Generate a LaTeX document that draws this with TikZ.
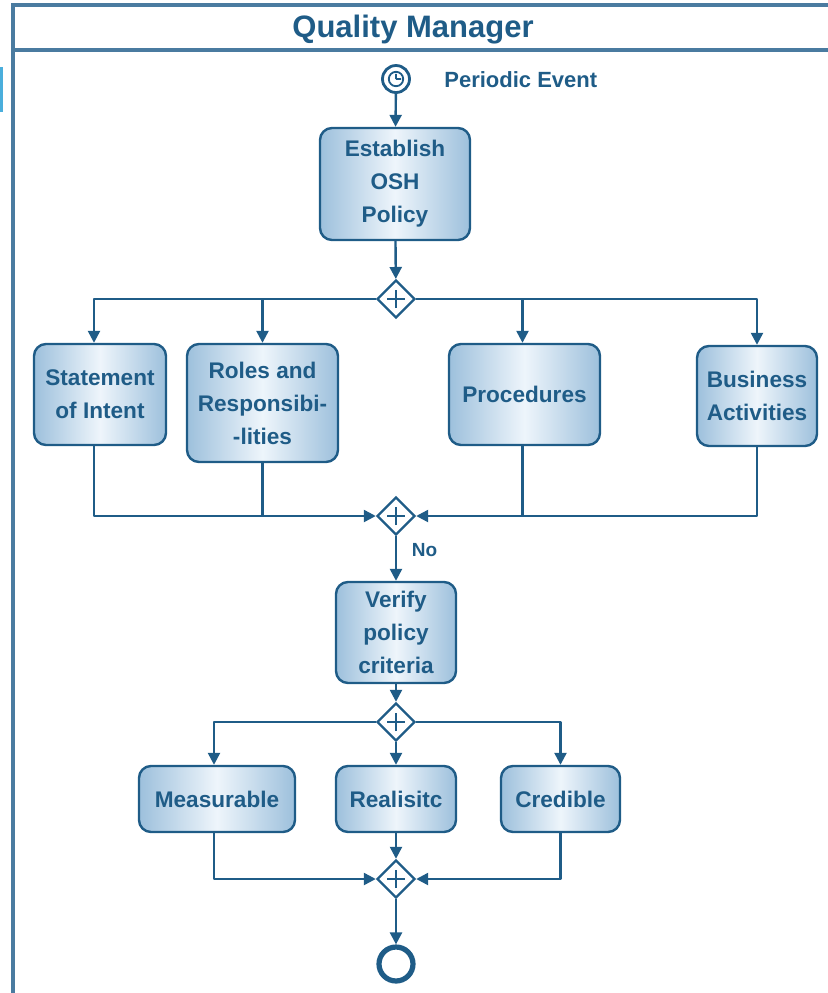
\documentclass[tikz,border=0pt]{standalone}
\usepackage{fontspec}
\setmainfont{Liberation Sans}
\usetikzlibrary{shapes.geometric,arrows.meta}
\definecolor{qmblue}{HTML}{1F5C87}
\definecolor{qmframe}{HTML}{4A7BA0}
\definecolor{qmedge}{HTML}{9DC0DC}
\definecolor{qmlight}{HTML}{EEF5FB}
\definecolor{qmbar}{HTML}{4AAEDC}
\tikzset{
  task/.style={draw=qmblue, line width=1.2pt, rounded corners=6pt, left color=qmedge, right color=qmedge, middle color=qmlight, text=qmblue, align=center, inner sep=0pt, font=\bfseries\fontsize{11.3}{16.5}\selectfont},
  gateway/.style={diamond, draw=qmblue, fill=white, line width=1.2pt, minimum width=19pt, minimum height=19pt, inner sep=0pt,
    path picture={\draw[qmblue, line width=1.1pt] ([xshift=-4.5pt]path picture bounding box.center) -- ++(9pt,0pt)
      ([yshift=-4.5pt]path picture bounding box.center) -- ++(0pt,9pt);}},
  flow/.style={draw=qmblue, line width=1.2pt, line join=round},
}
\begin{document}
\begin{tikzpicture}[x=0.5pt, y=-0.5pt, >={Triangle[length=6pt,width=6pt]}, font=\bfseries]
  \useasboundingbox (0,0) rectangle (828,993);
  % pool frame
  \fill[qmbar] (0,67) rectangle (3,112);
  \draw[qmframe, line width=1.8pt] (13,1000) -- (13,5) -- (840,5);
  \draw[qmframe, line width=1.8pt] (13,50) -- (840,50);
  \node[text=qmblue, font=\bfseries\fontsize{15.5}{18}\selectfont] (title) at (413,30) {Quality Manager};
  % events
  \node[circle, draw=qmblue, line width=1.4pt, minimum size=13.5pt, inner sep=0pt,
    path picture={\draw[qmblue, line width=0.9pt] (path picture bounding box.center) circle (3.6pt)
      (path picture bounding box.center) -- ++(0pt,2.6pt) (path picture bounding box.center) -- ++(2.6pt,0pt);}] (start) at (396,79) {};
  \node[anchor=west, inner sep=0pt, text=qmblue, font=\bfseries\fontsize{11}{13}\selectfont] (evlabel) at (444,80) {Periodic Event};
  \node[circle, draw=qmblue, line width=2.6pt, minimum size=17pt, inner sep=0pt] (end) at (396,964) {};
  % tasks
  \node[task, minimum width=75pt, minimum height=56pt] (est) at (395,184) {Establish\\OSH\\Policy};
  \node[task, minimum width=66pt, minimum height=50.5pt] (soi) at (100,394.5) {Statement\\of Intent};
  \node[task, minimum width=75.5pt, minimum height=59pt] (rar) at (262.5,403) {Roles and\\Responsibi-\\-lities};
  \node[task, minimum width=75.5pt, minimum height=50.5pt] (proc) at (524.5,394.5) {Procedures};
  \node[task, minimum width=60pt, minimum height=50pt] (bus) at (757,396) {Business\\Activities};
  \node[task, minimum width=60pt, minimum height=50.5pt] (ver) at (396,632.5) {Verify\\policy\\criteria};
  \node[task, minimum width=78pt, minimum height=33pt] (meas) at (217,799) {Measurable};
  \node[task, minimum width=60pt, minimum height=33pt] (real) at (396,799) {Realisitc};
  \node[task, minimum width=59.5pt, minimum height=33pt] (cred) at (560.5,799) {Credible};
  % gateways
  \node[gateway] (g1) at (396,299) {};
  \node[gateway] (g2) at (396,516) {};
  \node[gateway] (g3) at (396,722) {};
  \node[gateway] (g4) at (396,879) {};
  % sequence flows
  \draw[flow,->] (start) -- (est);
  \draw[flow,->] (est) -- (g1);
  \draw[flow,->] (g1.west) -| ([xshift=-3pt]soi.north);
  \draw[flow,->] (g1.west) -| (rar.north);
  \draw[flow,->] (g1.east) -| ([xshift=-1pt]proc.north);
  \draw[flow,->] (g1.east) -| (bus.north);
  \draw[flow,->] ([xshift=-3pt]soi.south) |- (g2.west);
  \draw[flow] (rar.south) -- (rar.south |- g2.west);
  \draw[flow,->] (bus.south) |- (g2.east);
  \draw[flow] ([xshift=-1pt]proc.south) -- ([xshift=-1pt]proc.south |- g2.east);
  \draw[flow,->] (g2) -- node[pos=0.3, right=4pt, text=qmblue, font=\bfseries\fontsize{9.5}{11}\selectfont] (no) {No} (ver);
  \draw[flow,->] (ver) -- (g3);
  \draw[flow,->] (g3.west) -| ([xshift=-1.5pt]meas.north);
  \draw[flow,->] (g3) -- (real);
  \draw[flow,->] (g3.east) -| (cred.north);
  \draw[flow,->] ([xshift=-1.5pt]meas.south) |- (g4.west);
  \draw[flow,->] (real) -- (g4);
  \draw[flow,->] (cred.south) |- (g4.east);
  \draw[flow,->] (g4) -- (end);
\end{tikzpicture}
\end{document}
